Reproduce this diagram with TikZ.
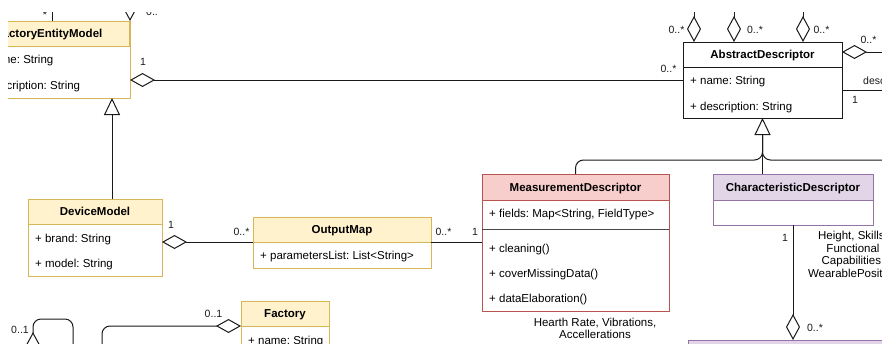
\documentclass[tikz,border=0pt]{standalone}
\usepackage{fontspec}
\setmainfont{Liberation Sans}
\usetikzlibrary{arrows.meta}
\frenchspacing
\definecolor{yelFill}{HTML}{FFF2CC}
\definecolor{yelLine}{HTML}{D6B656}
\definecolor{redFill}{HTML}{F8CECC}
\definecolor{redLine}{HTML}{B85450}
\definecolor{purFill}{HTML}{E1D5E7}
\definecolor{purLine}{HTML}{9673A6}
\definecolor{ink}{HTML}{1A1A1A}
\tikzset{
  body/.style={draw=#1, fill=white, line width=1pt, inner sep=0pt, outer sep=0pt},
  head/.style 2 args={draw=#2, fill=#1, line width=1pt, inner sep=0pt, outer sep=0pt,
    minimum height=25pt, font=\fontsize{11.5}{13}\selectfont\bfseries,
    text height=10.2pt, text depth=2.2pt},
  member/.style={font=\fontsize{11.5}{13}\selectfont, anchor=base west, inner sep=0pt},
  mult/.style={font=\fontsize{10.5}{12}\selectfont, inner sep=0pt, text=ink},
  conn/.style={draw=ink, line width=1pt},
  agg/.style={conn, -{Diamond[open, length=25pt, width=14pt]}},
  aggv/.style={conn, -{Diamond[open, length=26pt, width=14pt]}},
  gen/.style={conn, -{Triangle[open, length=17pt, width=16pt]}},
  note/.style={font=\fontsize{11.5}{12.7}\selectfont, align=center, inner sep=0pt},
}
\begin{document}
\begin{tikzpicture}[x=1pt,y=-1pt]
\useasboundingbox (0,0) rectangle (882,343);
\fill[white] (0,0) rectangle (882,343);
\begin{scope}
\clip (8,12) rectangle (882,343);

% ---------- classes ----------
% FactoryEntityModel
\node[body=yelLine, minimum width=160pt, minimum height=77pt] (fem) at (50,59.5) {};
\node[head={yelFill}{yelLine}, minimum width=160pt] (femH) at (49,33.5) {FactoryEntityModel};
\node[member] (femA) at (-22,63) {+ name: String};
\node[member] (femB) at (-22,89) {+ description: String};

% AbstractDescriptor
\node[body=ink, minimum width=159pt, minimum height=76pt] (ad) at (762.5,80) {};
\node[head={white}{ink}, minimum width=159pt] (adH) at (762.5,54.5) {AbstractDescriptor};
\node[member] (adA) at (690,84) {+ name: String};
\node[member] (adB) at (690,110) {+ description: String};

% DeviceModel
\node[body=yelLine, minimum width=134pt, minimum height=77pt] (dm) at (95,237.5) {};
\node[head={yelFill}{yelLine}, minimum width=134pt] (dmH) at (95,211.5) {DeviceModel};
\node[member] (dmA) at (35,242) {+ brand: String};
\node[member] (dmB) at (35,267) {+ model: String};

% OutputMap
\node[body=yelLine, minimum width=178pt, minimum height=51pt] (om) at (342,242.5) {};
\node[head={yelFill}{yelLine}, minimum width=178pt] (omH) at (342,229.5) {OutputMap};
\node[member] (omA) at (260,259) {+ parametersList: List<String>};

% MeasurementDescriptor
\node[body=redLine, minimum width=187pt, minimum height=137pt] (md) at (575.5,242.5) {};
\node[head={redFill}{redLine}, minimum width=187pt, minimum height=26pt] (mdH) at (575.5,187) {MeasurementDescriptor};
\draw[ink!80, line width=1pt] (md.west |- 0,229) -- (md.east |- 0,229);
\node[member] (mdA) at (489,217) {+ fields: Map<String, FieldType>};
\node[member] (mdM1) at (489,252) {+ cleaning()};
\node[member] (mdM2) at (489,277) {+ coverMissingData()};
\node[member] (mdM3) at (489,302) {+ dataElaboration()};

% CharacteristicDescriptor
\node[body=purLine, minimum width=160pt, minimum height=51pt] (cd) at (793,199.5) {};
\node[head={purFill}{purLine}, minimum width=160pt, minimum height=26pt] (cdH) at (793,187) {CharacteristicDescriptor};

% Factory
\node[body=yelLine, minimum width=88pt, minimum height=80pt] (fac) at (285,341) {};
\node[head={yelFill}{yelLine}, minimum width=88pt] (facH) at (285,313.5) {Factory};
\node[member] (facA) at (248,344) {+ name: String};

% class below CharacteristicDescriptor
\node[body=purLine, minimum width=262pt, minimum height=60pt] (low) at (819,370) {};
\node[head={purFill}{purLine}, minimum width=262pt] (lowH) at (819,352.5) {};

% ---------- connectors ----------
% FactoryEntityModel <>-- AbstractDescriptor
\draw[agg] (ad.west |- 0,80) -- (fem.east |- 0,80);
\node[mult] (l1) at (143,62) {1};
\node[mult] (l2) at (668.5,69) {0..*};

% DeviceModel --|> FactoryEntityModel
\draw[gen] (dm.north -| 112,0) -- (fem.south -| 112,0);

% DeviceModel <>-- OutputMap
\draw[agg] (om.west |- 0,242) -- (dm.east |- 0,242);
\node[mult] (l3) at (171,225) {1};
\node[mult] (l4) at (241.5,232) {0..*};

% OutputMap -- MeasurementDescriptor
\draw[conn] (om.east |- 0,242) -- (md.west |- 0,242);
\node[mult] (l5) at (443.5,232) {0..*};
\node[mult] (l6) at (475,232) {1};

% generalisation tree into AbstractDescriptor
\coordinate (adT) at ([yshift=-17pt]ad.south);
\coordinate (offR) at (895,160);
\draw[conn, rounded corners=8pt] (md.north) |- (adT |- offR) -- (adT);
\draw[conn, rounded corners=8pt] (offR) -- (adT |- offR) -- (adT);
\draw[gen] (cd.north -| ad.south) -- (ad.south);

% aggregations on top of AbstractDescriptor
\foreach \x in {694,734,803} \draw[aggv] (\x,0) -- (ad.north -| \x,0);
\node[mult] (l7) at (676.5,30) {0..*};
\node[mult] (l8) at (755,30) {0..*};
\node[mult] (l9) at (821.5,30) {0..*};

% right side of AbstractDescriptor
\coordinate (eR1) at (895,52);
\coordinate (eR2) at (895,90);
\draw[agg] (eR1) -- (ad.east |- eR1);
\node[mult] (l10) at (868.5,40) {0..*};
\draw[conn] (ad.east |- eR2) -- (eR2);
\node[mult, anchor=west] (l11) at (863,82) {description};
\node[mult] (l12) at (855,100) {1};

% links above FactoryEntityModel
\draw[conn] (fem.north -| 52,0) -- ++(0,-30);
\node[mult] (l13) at (45,15) {*};
\draw[aggv] (130,-40) -- (fem.north east);
\node[mult, anchor=west] (l14) at (146,11.5) {0..*};

% CharacteristicDescriptor -- class below
\draw[aggv] (cd.south) -- (cd.south |- low.north);
\node[mult] (l15) at (785,238) {1};
\node[mult] (l16) at (815,328) {0..*};

% Factory aggregation
\draw[agg, rounded corners=8pt] (102,360) |- (facH.south west);
\node[mult] (l17) at (213.5,314) {0..1};

% loop at the bottom left
\draw[aggv, rounded corners=8pt] (73,360) |- (33,319) -- (33,358);
\node[mult] (l18) at (20,330) {0..1};

% free texts
\node[note] (hr) at (595,328.5) {Hearth Rate, Vibrations,\\Accellerations};
\node[note] (ch) at (853,254.5) {Height, Skills,\\Functional\\Capabilities,\\WearablePosition};
\end{scope}
\end{tikzpicture}
\end{document}
